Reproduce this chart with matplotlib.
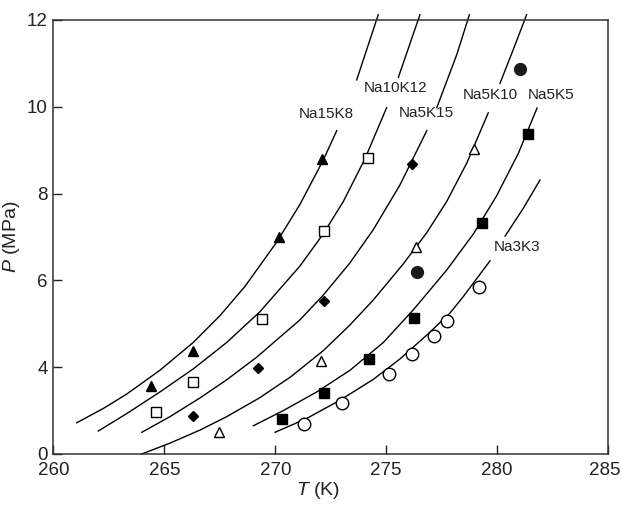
import numpy as np
import matplotlib
matplotlib.use("Agg")
import matplotlib.pyplot as plt
import matplotlib.transforms as mtransforms

plt.rcParams['font.family'] = ['Liberation Sans', 'DejaVu Sans']
plt.rcParams['mathtext.fontset'] = 'custom'
plt.rcParams['mathtext.rm'] = 'Liberation Sans'
plt.rcParams['mathtext.it'] = 'Liberation Sans:italic'

# ---- model curves (T in K, P in MPa on the drawn axis); NaN = gap behind label ----
curveA_T = [261.05, 262.25, 263.30, 264.80, 266.30, 267.51, 268.63, 270.06, 271.11, 272.16, 272.77, np.nan, 273.67, 274.64]
curveA_P = [2.72, 3.05, 3.38, 3.93, 4.57, 5.19, 5.86, 6.88, 7.75, 8.77, 9.45, np.nan, 10.62, 12.12]

curveB_T = [262.02, 263.30, 264.80, 266.30, 267.81, 269.31, 271.11, 272.16, 273.07, 274.04, 275.02, np.nan, 275.55, 276.52]
curveB_P = [2.53, 2.93, 3.43, 3.96, 4.57, 5.28, 6.33, 7.07, 7.82, 8.80, 9.98, np.nan, 10.68, 12.12]

curveC_T = [263.98, 265.25, 266.60, 267.81, 269.16, 271.11, 272.16, 273.36, 274.42, 275.62, 276.83, np.nan, 277.28, 278.18, 278.75]
curveC_P = [2.50, 2.86, 3.29, 3.71, 4.23, 5.09, 5.66, 6.40, 7.17, 8.20, 9.45, np.nan, 9.98, 11.20, 12.12]

curveD_T = [263.98, 265.25, 266.60, 267.81, 269.31, 270.70, 272.16, 273.36, 274.42, 275.77, 276.83, 277.73, 278.63, 279.60, np.nan, 280.13, 280.73, 281.33]
curveD_P = [2.00, 2.25, 2.55, 2.86, 3.30, 3.78, 4.38, 4.97, 5.55, 6.38, 7.10, 7.82, 8.70, 9.86, np.nan, 10.54, 11.32, 12.12]

curveE_T = [269.01, 270.36, 271.87, 273.37, 274.87, 276.22, 277.73, 278.93, 279.98, 280.96, 281.80]
curveE_P = [2.65, 3.00, 3.43, 3.93, 4.57, 5.32, 6.24, 7.07, 7.95, 8.93, 9.97]

curveF_T = [269.99, 271.42, 272.92, 274.42, 275.62, 276.83, 277.88, 278.48, 279.68, np.nan, 280.36, 281.18, 281.93]
curveF_P = [2.50, 2.82, 3.24, 3.72, 4.19, 4.74, 5.25, 5.63, 6.45, np.nan, 7.02, 7.66, 8.31]

# ---- experimental points ----
na15k8_T = [264.40, 266.29, 270.17, 272.11]
na15k8_P = [3.57, 4.37, 7.00, 8.80]

na10k12_T = [264.61, 266.28, 269.39, 272.20, 274.19]
na10k12_P = [2.96, 3.67, 5.11, 7.14, 8.81]

na5k15_T = [266.28, 269.21, 272.21, 276.16]
na5k15_P = [2.88, 3.97, 5.53, 8.68]

na5k10_T = [267.48, 272.06, 276.34, 278.96]
na5k10_P = [2.51, 4.14, 6.78, 9.02]

na5k5_T = [270.32, 272.21, 274.22, 276.25, 279.31, 281.41]
na5k5_P = [2.81, 3.41, 4.19, 5.13, 7.32, 9.37]

dot_T = [276.40, 281.03]
dot_P = [6.20, 10.86]

na3k3_T = [271.31, 272.99, 275.14, 276.16, 277.15, 277.73, 279.18]
na3k3_P = [2.69, 3.17, 3.84, 4.30, 4.72, 5.06, 5.85]

label_names = ['Na15K8', 'Na10K12', 'Na5K15', 'Na5K10', 'Na5K5', 'Na3K3']
label_T = [272.32, 275.43, 276.83, 279.68, 282.42, 280.88]
label_P = [9.84, 10.44, 9.85, 10.27, 10.27, 6.76]

xticks = [260, 265, 270, 275, 280, 285]
yticks = [2, 4, 6, 8, 10, 12]
ytick_labels = ['0', '4', '6', '8', '10', '12']

fig = plt.figure(figsize=(6.22, 5.05), dpi=100)
ax = fig.add_axes([0.0860, 0.1010, 0.8915, 0.8594])

for T, P in [(curveA_T, curveA_P), (curveB_T, curveB_P), (curveC_T, curveC_P),
             (curveD_T, curveD_P), (curveE_T, curveE_P), (curveF_T, curveF_P)]:
    ax.plot(T, P, color='black', lw=1.0, clip_on=False, zorder=2,
            solid_joinstyle='round')

mk = dict(linestyle='none', color='black', zorder=4, clip_on=False)
ax.plot(na15k8_T, na15k8_P, marker='^', ms=7.5, mfc='black', mec='black', **mk)
ax.plot(na10k12_T, na10k12_P, marker='s', ms=7, mfc='white', mec='black', mew=1.0, **mk)
ax.plot(na5k15_T, na5k15_P, marker='D', ms=5, mfc='black', mec='black', **mk)
ax.plot(na5k10_T, na5k10_P, marker='^', ms=7.5, mfc='white', mec='black', mew=1.0, **mk)
ax.plot(na5k5_T, na5k5_P, marker='s', ms=7, mfc='black', mec='black', **mk)
ax.plot(dot_T, dot_P, marker='o', ms=8.5, mfc='#1a1a1a', mec='#1a1a1a', **mk)
ax.plot(na3k3_T, na3k3_P, marker='o', ms=9, mfc='white', mec='black', mew=1.0, **mk)

for name, t, p in zip(label_names, label_T, label_P):
    ax.text(t, p, name, fontsize=11, color='#222222', ha='center', va='center', zorder=3)

ax.set_xlim(260, 285)
ax.set_ylim(2, 12)
ax.set_xticks(xticks)
ax.set_xticklabels([str(v) for v in xticks])
ax.set_yticks(yticks)
ax.set_yticklabels(ytick_labels)
ax.tick_params(direction='in', length=6.5, width=1.0, labelsize=13.5, colors='#222222', pad=4)
ax.tick_params(axis='x', pad=6)
for s in ax.spines.values():
    s.set_linewidth(1.1)
    s.set_color('#333333')

# nudge the last x tick label so it stays inside the canvas, as in the reference
last = ax.get_xticklabels()[-1]
last.set_transform(last.get_transform() + mtransforms.ScaledTranslation(-3/100, 0, fig.dpi_scale_trans))

ax.set_xlabel('$T$ (K)', fontsize=14, color='#222222')
ax.xaxis.set_label_coords(0.477, -0.06)
ax.set_ylabel('$P$ (MPa)', fontsize=14, color='#222222', labelpad=4)

fig.savefig('out.png', dpi=100)
